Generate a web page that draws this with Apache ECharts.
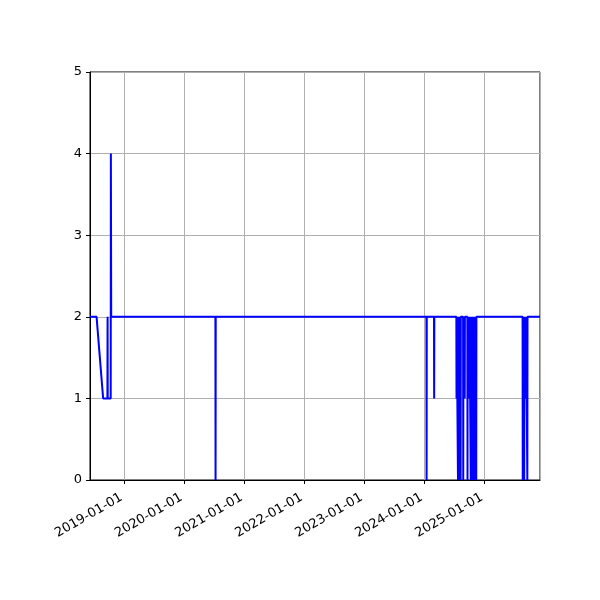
<!DOCTYPE html>
<html>
<head>
<meta charset="utf-8">
<script src="https://cdn.jsdelivr.net/npm/echarts@6/dist/echarts.min.js"></script>
<style>
  html, body { margin: 0; padding: 0; background: #fff; }
  #main { width: 600px; height: 600px; }
</style>
</head>
<body>
<div id="main"></div>
<script>
// dates and values
var dates = [
  '2018-06-07', '2018-07-17', '2018-08-26', '2018-09-21', '2018-09-22', '2018-09-23',
  '2018-10-11', '2018-10-12', '2018-10-14',
  '2020-07-09', '2020-07-10', '2020-07-11',
  '2024-01-14', '2024-01-15', '2024-01-16',
  '2024-02-29', '2024-03-01', '2024-03-02',
  '2024-07-14', '2024-07-15', '2024-07-16',
  '2024-07-23', '2024-07-24', '2024-07-25',
  '2024-08-01', '2024-08-02', '2024-08-03',
  '2024-08-08', '2024-08-09', '2024-08-10',
  '2024-08-24', '2024-08-25', '2024-08-26',
  '2024-09-02', '2024-09-03', '2024-09-04',
  '2024-09-19', '2024-09-20', '2024-09-21',
  '2024-09-30', '2024-10-01', '2024-10-02',
  '2024-10-09', '2024-10-10', '2024-10-11',
  '2024-10-18', '2024-10-19', '2024-10-20',
  '2024-10-27', '2024-10-28', '2024-10-29',
  '2024-11-05', '2024-11-06', '2024-11-07',
  '2024-11-11', '2024-11-12', '2024-11-13',
  '2025-08-21', '2025-08-22', '2025-08-23',
  '2025-08-30', '2025-08-31', '2025-09-01',
  '2025-09-09', '2025-09-10', '2025-09-11',
  '2025-09-18', '2025-09-19', '2025-09-20',
  '2025-12-05'
];
var values = [
  2, 2, 1, 1, 2, 1,
  1, 4, 2,
  2, 0, 2,
  2, 0, 2,
  2, 1, 2,
  2, 1, 2,
  2, 0, 2,
  2, 0, 2,
  2, 0, 2,
  2, 0, 2,
  2, 1, 2,
  2, 0, 2,
  2, 1, 2,
  2, 0, 2,
  2, 0, 2,
  2, 0, 2,
  2, 0, 2,
  2, 0, 2,
  2, 0, 2,
  2, 0, 2,
  2, 1, 2,
  2, 0, 2,
  2
];
var yTicks = [0, 1, 2, 3, 4, 5];

var myChart = echarts.init(document.getElementById('main'));

var seriesData = dates.map(function (d, i) { return [d, values[i]]; });

var option = {
  animation: false,
  backgroundColor: '#fff',
  textStyle: { fontFamily: 'DejaVu Sans' },
  grid: {
    left: 90, right: 60, top: 72, bottom: 120,
    show: true, borderColor: '#000', borderWidth: 1
  },
  xAxis: {
    type: 'time',
    min: dates[0],
    max: dates[dates.length - 1],
    minInterval: 365 * 86400000,
    maxInterval: 366 * 86400000,
    axisLine: { show: true, lineStyle: { color: '#000' } },
    axisTick: { show: true, length: 4, lineStyle: { color: '#000' } },
    axisLabel: {
      rotate: 30,
      color: '#000',
      fontFamily: 'DejaVu Sans',
      fontSize: 13,
      margin: 15,
      padding: [0, 3, 0, 0],
      formatter: '{yyyy}-{MM}-{dd}'
    },
    splitLine: { show: true, lineStyle: { color: '#b0b0b0', width: 1 } }
  },
  yAxis: {
    type: 'value',
    min: yTicks[0],
    max: yTicks[yTicks.length - 1],
    interval: 1,
    axisLine: { show: true, lineStyle: { color: '#000' } },
    axisTick: { show: true, length: 4, lineStyle: { color: '#000' } },
    axisLabel: { color: '#000', fontFamily: 'DejaVu Sans', fontSize: 13, margin: 8 },
    splitLine: { show: true, lineStyle: { color: '#b0b0b0', width: 1 } }
  },
  series: [
    {
      type: 'line',
      data: seriesData,
      showSymbol: false,
      symbol: 'none',
      lineStyle: { color: '#0000ff', width: 2 }
    }
  ]
};

myChart.setOption(option);
</script>
</body>
</html>
